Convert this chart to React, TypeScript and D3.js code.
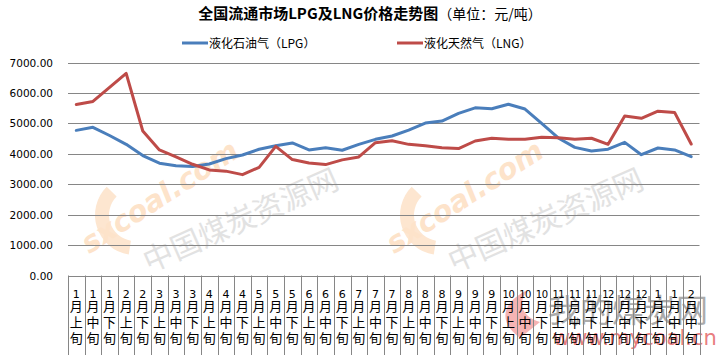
import * as d3 from 'd3';
import { useEffect, useRef } from 'react';

const WIDTH = 722;
const HEIGHT = 355;

const monthLabels = [
  '1', '1', '1', '2', '2', '3', '3', '3', '4', '4', '4', '5', '5', '5',
  '6', '6', '6', '7', '7', '7', '8', '8', '8', '9', '9', '9',
  '10', '10', '10', '11', '11', '11', '12', '12', '12', '1', '1', '2',
];
const periodLabels = [
  '上', '中', '下', '上', '下', '上', '中', '下', '上', '中', '下', '上', '中', '下',
  '上', '中', '下', '上', '中', '下', '上', '中', '下', '上', '中', '下',
  '上', '中', '下', '上', '中', '下', '上', '中', '下', '上', '中', '中',
];
const lpgValues = [
  4770, 4870, 4600, 4310, 3940, 3690, 3610, 3580, 3665, 3840,
  3960, 4150, 4265, 4355, 4125, 4200, 4115, 4310, 4475, 4585,
  4780, 5010, 5075, 5330, 5510, 5480, 5630, 5470, 5000, 4520,
  4210, 4090, 4150, 4375, 3970, 4190, 4125, 3905,
];
const lngValues = [
  5620, 5720, 6180, 6640, 4750, 4125, 3900, 3655, 3470, 3430,
  3315, 3555, 4245, 3810, 3700, 3645, 3800, 3895, 4365, 4430,
  4310, 4265, 4200, 4170, 4420, 4510, 4475, 4475, 4540, 4530,
  4475, 4510, 4310, 5240, 5165, 5400, 5360, 4320,
];
const yTicks = [0, 1000, 2000, 3000, 4000, 5000, 6000, 7000];
const seriesNames = ['液化石油气（LPG）', '液化天然气（LNG）'];
const seriesColors = ['#4a7ebb', '#be4b48'];

const CJK = '"Noto Sans CJK SC", "Noto Sans", sans-serif';
const NUM = '"DejaVu Sans", Verdana, sans-serif';

export default function App() {
  const ref = useRef<SVGSVGElement>(null);

  useEffect(() => {
    const svg = d3.select(ref.current);
    svg.selectAll('*').remove();

    const plot = { left: 68, right: 699.5, top: 62.5, bottom: 275.5 };
    const idx = d3.range(monthLabels.length);

    const x = d3.scaleBand<number>()
      .domain(idx)
      .range([plot.left, plot.right]);
    const y = d3.scaleLinear()
      .domain([0, 7000])
      .range([plot.bottom, plot.top]);

    svg.append('rect')
      .attr('width', WIDTH)
      .attr('height', HEIGHT)
      .attr('fill', '#fff');

    // watermarks
    const wm = svg.append('g').attr('pointer-events', 'none');
    [[165, 205], [470, 205]].forEach(([cx, cy]) => {
      wm.append('path')
        .attr('d', d3.arc()({
          innerRadius: 26, outerRadius: 40,
          startAngle: Math.PI * 1.05, endAngle: Math.PI * 1.75,
        }) as string)
        .attr('transform', `translate(${cx - 30},${cy + 10})`)
        .attr('fill', '#fde6d0');
      wm.append('text')
        .attr('transform', `translate(${cx},${cy}) rotate(-33)`)
        .attr('text-anchor', 'middle')
        .style('font-family', NUM)
        .style('font-size', '29px')
        .style('font-weight', 700)
        .style('font-style', 'italic')
        .style('fill', '#fde3ca')
        .text('sxcoal.com');
      wm.append('text')
        .attr('transform', `translate(${cx + 80},${cy + 25}) rotate(-24)`)
        .attr('text-anchor', 'middle')
        .style('font-family', CJK)
        .style('font-size', '30px')
        .style('fill', '#e2e2e2')
        .text('中国煤炭资源网');
    });
    wm.append('path')
      .attr('d', 'M520,338 C495,320 505,300 528,290 C515,305 525,318 540,322 Z')
      .attr('fill', '#f2a0a0')
      .style('opacity', 0.8);
    wm.append('text')
      .attr('x', 548)
      .attr('y', 322)
      .style('font-family', CJK)
      .style('font-size', '32px')
      .style('fill', '#8a8a8a')
      .style('opacity', 0.7)
      .text('我的煤炭网');
    wm.append('text')
      .attr('x', 553)
      .attr('y', 345)
      .style('font-family', NUM)
      .style('font-size', '21px')
      .style('fill', '#e0484a')
      .style('opacity', 0.7)
      .text('www.mycoal.cn');

    // title
    const title = svg.append('text')
      .attr('x', 370)
      .attr('y', 19)
      .attr('text-anchor', 'middle')
      .style('font-family', CJK)
      .style('fill', '#000');
    title.append('tspan')
      .style('font-size', '15px')
      .style('font-weight', 700)
      .text('全国流通市场LPG及LNG价格走势图');
    title.append('tspan')
      .style('font-size', '14px')
      .text('（单位：元/吨）');

    // legend
    const legendX = [182, 397];
    seriesNames.forEach((name, i) => {
      svg.append('line')
        .attr('x1', legendX[i])
        .attr('x2', legendX[i] + 26)
        .attr('y1', 43)
        .attr('y2', 43)
        .attr('stroke', seriesColors[i])
        .attr('stroke-width', 3);
      svg.append('text')
        .attr('x', legendX[i] + 27)
        .attr('y', 47.5)
        .style('font-family', CJK)
        .style('font-size', '12px')
        .style('fill', '#000')
        .text(name);
    });

    // gridlines + y labels
    svg.append('g')
      .selectAll('line')
      .data(yTicks.filter((t) => t > 0))
      .join('line')
      .attr('x1', plot.left)
      .attr('x2', plot.right)
      .attr('y1', (t) => Math.round(y(t)) + 0.5)
      .attr('y2', (t) => Math.round(y(t)) + 0.5)
      .attr('stroke', '#868686')
      .attr('stroke-width', 1);

    svg.append('g')
      .selectAll('text')
      .data(yTicks)
      .join('text')
      .attr('x', 53)
      .attr('y', (t) => y(t) + 4)
      .attr('text-anchor', 'end')
      .style('font-family', NUM)
      .style('font-size', '10.5px')
      .style('fill', '#000')
      .text((t) => d3.format('.2f')(t));

    // category axis box
    const axis = svg.append('g');
    axis.append('line')
      .attr('x1', plot.left)
      .attr('x2', plot.right)
      .attr('y1', Math.round(plot.bottom) + 0.5)
      .attr('y2', Math.round(plot.bottom) + 0.5)
      .attr('stroke', '#868686');
    axis.selectAll('line.sep')
      .data(d3.range(monthLabels.length + 1))
      .join('line')
      .attr('class', 'sep')
      .attr('x1', (i) => Math.round(plot.left + i * x.step()) + 0.5)
      .attr('x2', (i) => Math.round(plot.left + i * x.step()) + 0.5)
      .attr('y1', plot.bottom)
      .attr('y2', HEIGHT)
      .attr('stroke', '#868686');

    const cell = axis.selectAll('g.cell')
      .data(idx)
      .join('g')
      .attr('class', 'cell')
      .attr('transform', (i) => `translate(${(x(i) as number) + x.bandwidth() / 2},0)`);
    cell.append('text')
      .attr('y', 298)
      .attr('text-anchor', 'middle')
      .style('font-family', NUM)
      .style('font-size', (i) => (monthLabels[i].length > 1 ? '10px' : '11px'))
      .style('letter-spacing', (i) => (monthLabels[i].length > 1 ? '-0.5px' : '0'))
      .style('fill', '#000')
      .text((i) => monthLabels[i]);
    [['月', 311], [null, 327], ['旬', 343]].forEach(([ch, yy]) => {
      cell.append('text')
        .attr('y', yy as number)
        .attr('text-anchor', 'middle')
        .style('font-family', CJK)
        .style('font-size', '13px')
        .style('fill', '#000')
        .text((i) => (ch ? (ch as string) : periodLabels[i]));
    });

    // lines
    const line = d3.line<number>()
      .x((_, i) => (x(i) as number) + x.bandwidth() / 2)
      .y((v) => y(v));
    [lpgValues, lngValues].forEach((values, i) => {
      svg.append('path')
        .datum(values)
        .attr('d', line)
        .attr('fill', 'none')
        .attr('stroke', seriesColors[i])
        .attr('stroke-width', 3)
        .attr('stroke-linejoin', 'round')
        .attr('stroke-linecap', 'round');
    });

    return () => {
      svg.selectAll('*').remove();
    };
  }, []);

  return (
    <svg
      ref={ref}
      width={WIDTH}
      height={HEIGHT}
      style={{ position: 'absolute', left: 0, top: 0 }}
      role="img"
      aria-label="全国流通市场LPG及LNG价格走势图"
    />
  );
}
